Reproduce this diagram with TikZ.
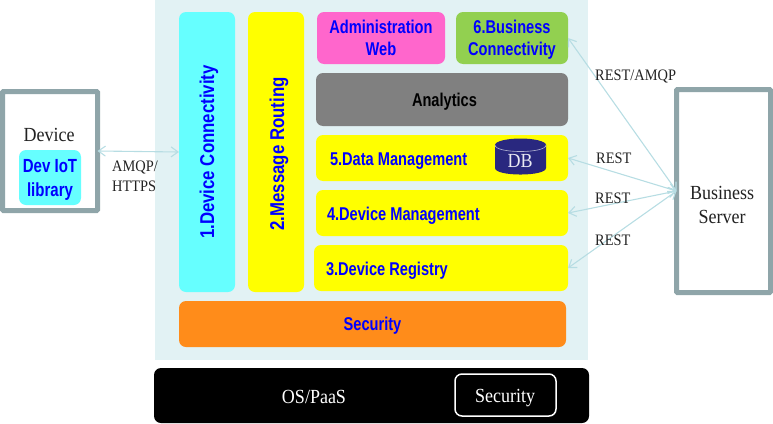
\documentclass[tikz,border=0pt]{standalone}
\usepackage{fontspec}
\setmainfont[FakeStretch=0.9]{Liberation Serif}
\newfontfamily\lsans[FakeStretch=0.79]{Liberation Sans}
\newfontfamily\lsansv[FakeStretch=0.84]{Liberation Sans}
\usetikzlibrary{arrows.meta}
\definecolor{panel}{HTML}{E2F2F4}
\definecolor{frame}{HTML}{8FA5A9}
\definecolor{aqua}{HTML}{66FFFF}
\definecolor{yel}{HTML}{FFFF00}
\definecolor{pinkb}{HTML}{FF66CC}
\definecolor{greenb}{HTML}{92D050}
\definecolor{greyb}{HTML}{808080}
\definecolor{orangeb}{HTML}{FF8C1A}
\definecolor{dbblue}{HTML}{29287F}
\definecolor{link}{HTML}{B7DDE3}
\definecolor{txt}{HTML}{222222}
\tikzset{
  x=1pt,y=-1pt,
  pos/.style args={#1/#2/#3/#4}{at={({(#1+#3)/2},{(#2+#4)/2})},minimum width={#3-#1},minimum height={#4-#2}},
  tile/.style={rectangle,rounded corners=7pt,inner sep=0pt,outer sep=0pt,font=\lsans\bfseries\fontsize{18.5}{22}\selectfont,text=blue,align=center,text depth=-2pt},
  vtitle/.style={inner sep=0pt,outer sep=0pt,rotate=90,text=blue},
  hostbox/.style={rectangle,draw=frame,line width=5pt,rounded corners=1pt,fill=white,inner sep=0pt,outer sep=0pt},
  plain/.style={inner sep=0pt,font=\fontsize{20}{24}\selectfont,text=txt,align=center},
  small/.style={plain,font=\fontsize{16}{20}\selectfont},
  link/.style={draw=link,line width=1.1pt,{Straight Barb[length=7pt,width=10pt]}-{Straight Barb[length=7pt,width=10pt]}},
}
\begin{document}
\begin{tikzpicture}
\useasboundingbox (0,0) rectangle (773,423);
\node[rectangle,fill=panel,draw=white,line width=1pt,inner sep=0pt,pos=154/-2/588/360] (bg) {};
\node[hostbox,pos=2.5/91.5/97.5/210.5] (dev) {};
\node[plain] (devt) at (49,135) {Device};
\node[tile,fill=aqua,pos=19/150/81/205,font=\lsans\bfseries\fontsize{19}{24}\selectfont] (lib) {Dev IoT\\library};
\node[hostbox,pos=676.5/89.5/770.5/292.5] (srv) {};
\node[plain] (srvt) at (722,205) {Business\\Server};
\node[tile,fill=aqua,pos=179/12/235/292] (dc) {};
\node[vtitle,font=\lsansv\bfseries\fontsize{20}{24}\selectfont] (dct) at (209,152) {1.Device Connectivity};
\node[tile,fill=yel,pos=248/12/304/292] (mr) {};
\node[vtitle,font=\lsansv\bfseries\fontsize{20}{24}\selectfont] (mrt) at (279,154) {2.Message Routing};
\node[tile,fill=pinkb,pos=317/12/445/64] (adm) {Administration\\Web};
\node[tile,fill=greenb,pos=456/12/568/64] (bc) {6.Business\\Connectivity};
\node[tile,fill=greyb,pos=316/73/568/126,text=black] (an) {\hspace*{5pt}Analytics};
\node[tile,fill=yel,pos=316/135/568/181] (dm) {};
\node[tile,anchor=west] (dmt) at (330,159) {5.Data Management};
\node[tile,fill=yel,pos=316/190/568/236] (mg) {};
\node[tile,anchor=west] (mgt) at (327,214) {4.Device Management};
\node[tile,fill=yel,pos=314/245/568/291] (rg) {};
\node[tile,anchor=west] (rgt) at (326,269) {3.Device Registry};
\node[tile,fill=orangeb,pos=179/301/566/347] (sec) {Security};
\node[rectangle,fill=black,rounded corners=7pt,inner sep=0pt,outer sep=0pt,pos=154/368/589/423] (os) {};
\node[plain,text=white] (ost) at (314,397) {OS/PaaS};
\node[rectangle,draw=white,line width=1.5pt,rounded corners=7pt,inner sep=0pt,outer sep=0pt,pos=455/374/556/416] (ossecbox) {};
\node[plain,text=white] (ossec) at (505,398) {Security};
% database cylinder
\fill[dbblue] (495,145) -- (546,145) -- (546,168) .. controls (546,176.7) and (495,176.7) .. (495,168) -- cycle;
\fill[dbblue] (520.5,145) ellipse[x radius=25.5,y radius=6.5];
\draw[white!65!dbblue,line width=.6pt] (495,145) .. controls (495,153.7) and (546,153.7) .. (546,145);
\node[plain,text=white!90!dbblue] (dbt) at (520,161) {DB};
% connectors
\draw[link] (dev.east) -- (dc.west);
\coordinate (hub) at (srv.west);
\draw[link] (bc.east) -- (hub);
\draw[link] (dm.east) -- (hub);
\draw[link] (mg.east) -- (hub);
\draw[link] (rg.east) -- (hub);
% labels
\node[small,align=left,anchor=north west] (amqp) at (112,161) {AMQP/\\HTTPS};
\node[small,anchor=west] (l1) at (595,76) {REST/AMQP};
\node[small,anchor=west] (l2) at (596,158) {REST};
\node[small,anchor=west] (l3) at (595,198) {REST};
\node[small,anchor=west] (l4) at (595,240) {REST};
\end{tikzpicture}
\end{document}
